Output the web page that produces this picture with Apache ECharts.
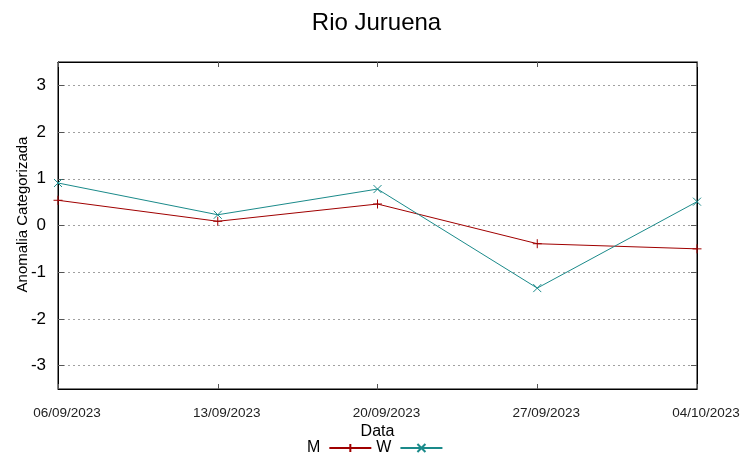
<!DOCTYPE html>
<html>
<head>
<meta charset="utf-8">
<script src="https://cdn.jsdelivr.net/npm/echarts@6/dist/echarts.min.js"></script>
<style>
html,body{margin:0;padding:0;background:#fff;}
#c{width:753px;height:459px;}
</style>
</head>
<body>
<div id="c"></div>
<script>
var titleText = 'Rio Juruena';
var xLabel = 'Data';
var yLabel = 'Anomalia Categorizada';
var categories = ['06/09/2023', '13/09/2023', '20/09/2023', '27/09/2023', '04/10/2023'];
var seriesM = [0.54, 0.09, 0.46, -0.39, -0.50];
var seriesW = [0.91, 0.23, 0.78, -1.34, 0.51];
var yTicks = [-3, -2, -1, 0, 1, 2, 3];

var FONT = '"Liberation Sans", Arial, sans-serif';
var RED = '#a00000';
var TEAL = '#1a8a8a';
var plusPath = 'path://M0,5 L10,5 M5,0 L5,10';
var crossPath = 'path://M0,0 L10,10 M10,0 L0,10';

var chart = echarts.init(document.getElementById('c'), null, {renderer: 'canvas'});
var yAxisCommon = {
  type: 'value', min: -3.5, max: 3.5, interval: 0.5,
  axisLine: {show: true, onZero: false, lineStyle: {color: '#000', width: 1}},
  axisTick: {show: true, inside: true, length: 6, lineStyle: {color: '#555'},
    customValues: yTicks},
  splitLine: {show: false}
};
chart.setOption({
  animation: false,
  backgroundColor: '#fff',
  title: {
    text: titleText, left: 'center', top: 6,
    textStyle: {fontFamily: FONT, fontSize: 24, fontWeight: 'normal', color: '#000'}
  },
  grid: {left: 58, right: 56, top: 62, bottom: 70, show: true, borderColor: '#000', borderWidth: 1},
  legend: {
    data: ['M', 'W'], left: 302, top: 435, align: 'right',
    itemWidth: 42, itemHeight: 10, itemGap: 4,
    textStyle: {fontFamily: FONT, fontSize: 16, color: '#000', padding: [0, 4, 0, 0]}
  },
  xAxis: [{
    type: 'category', data: categories, boundaryGap: false,
    name: xLabel, nameLocation: 'middle', nameGap: 35, nameMoveOverlap: false,
    nameTextStyle: {fontFamily: FONT, fontSize: 16, color: '#000'},
    axisLine: {show: true, onZero: false, lineStyle: {color: '#000'}},
    axisTick: {show: true, inside: true, length: 5, alignWithLabel: true, lineStyle: {color: '#555'}},
    axisLabel: {fontFamily: FONT, fontSize: 13.5, color: '#222', margin: 17,
      padding: [0, 0, 0, 18], showMinLabel: true, showMaxLabel: true},
    splitLine: {show: false}
  }, {
    type: 'category', data: categories, boundaryGap: false, position: 'top',
    axisLine: {show: true, onZero: false, lineStyle: {color: '#000'}},
    axisTick: {show: true, inside: true, length: 5, lineStyle: {color: '#555'}},
    axisLabel: {show: false}
  }],
  yAxis: [Object.assign({}, yAxisCommon, {
    name: yLabel, nameLocation: 'middle', nameGap: 28, nameMoveOverlap: false,
    nameTextStyle: {fontFamily: FONT, fontSize: 15, color: '#000', padding: [0, 0, 0, 22]},
    axisLabel: {fontFamily: FONT, fontSize: 17, color: '#000', margin: 12,
      customValues: yTicks},
    splitLine: {show: true, lineStyle: {color: '#a0a0a0', type: [2, 3], width: 1},
      customValues: yTicks}
  }), Object.assign({}, yAxisCommon, {position: 'right', axisLabel: {show: false}})],
  series: [{
    name: 'M', type: 'line', data: seriesM,
    symbol: plusPath, symbolSize: 9, showAllSymbol: true,
    lineStyle: {color: RED, width: 1},
    itemStyle: {color: 'rgba(0,0,0,0)', borderColor: RED, borderWidth: 1}
  }, {
    name: 'W', type: 'line', data: seriesW,
    symbol: crossPath, symbolSize: 8, showAllSymbol: true,
    lineStyle: {color: TEAL, width: 1},
    itemStyle: {color: 'rgba(0,0,0,0)', borderColor: TEAL, borderWidth: 1}
  }]
});
</script>
</body>
</html>
